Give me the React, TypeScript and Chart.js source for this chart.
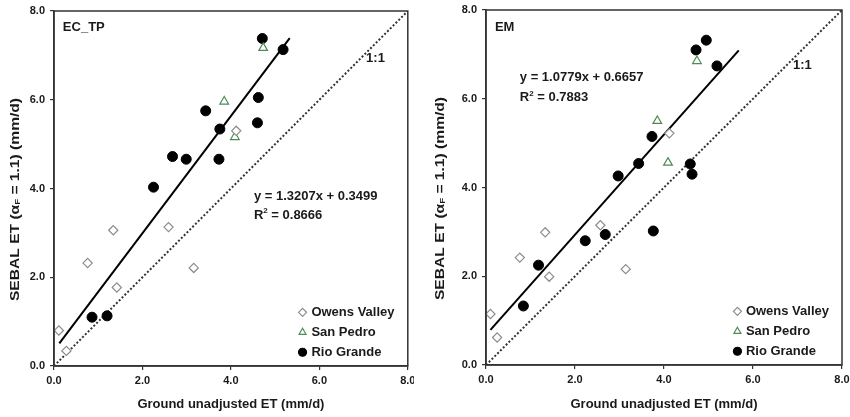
import React, { useEffect, useRef } from "react";
import { Chart, registerables } from "chart.js";
import { drawPoint } from "chart.js/helpers";

Chart.register(...registerables);

// ---------- shared ----------
const TICK_VALUES = [0, 2, 4, 6, 8];
const X_TITLE = "Ground unadjusted ET (mm/d)";
const Y_TITLE_PARTS = ["SEBAL ET (α", "F", " = 1.1) (mm/d)"];
const SERIES_NAMES = ["Owens Valley", "San Pedro", "Rio Grande"];
const ONE_TO_ONE_X = [0, 8];
const ONE_TO_ONE_Y = [0, 8];
const ONE_TO_ONE_LABEL = "1:1";

// ---------- EC_TP panel ----------
const EC_LABEL = "EC_TP";
const EC_EQUATION = "y = 1.3207x + 0.3499";
const EC_R2 = "0.8666";
const ecOwensX = [0.11, 0.28, 0.76, 1.34, 1.42, 2.59, 3.16, 4.12];
const ecOwensY = [0.8, 0.34, 2.32, 3.06, 1.77, 3.13, 2.21, 5.3];
const ecSanPedroX = [3.85, 4.09, 4.73];
const ecSanPedroY = [5.96, 5.16, 7.17];
const ecRioX = [0.86, 1.2, 2.25, 2.68, 2.99, 3.43, 3.75, 3.73, 4.6, 4.62, 4.71, 5.18];
const ecRioY = [1.1, 1.13, 4.03, 4.72, 4.66, 5.75, 5.34, 4.66, 5.48, 6.05, 7.38, 7.13];
const ecTrendX = [0.12, 5.33];
const ecTrendY = [0.51, 7.39];

// ---------- EM panel ----------
const EM_LABEL = "EM";
const EM_EQUATION = "y = 1.0779x + 0.6657";
const EM_R2 = "0.7883";
const emOwensX = [0.1, 0.25, 0.76, 1.33, 1.42, 2.57, 3.14, 4.12];
const emOwensY = [1.15, 0.62, 2.42, 2.99, 1.99, 3.15, 2.16, 5.22];
const emSanPedroX = [3.85, 4.09, 4.74];
const emSanPedroY = [5.5, 4.56, 6.85];
const emRioX = [0.84, 1.18, 2.23, 2.68, 2.97, 3.43, 3.73, 3.76, 4.59, 4.63, 4.72, 4.95, 5.19];
const emRioY = [1.33, 2.25, 2.8, 2.94, 4.26, 4.54, 5.15, 3.02, 4.53, 4.3, 7.1, 7.32, 6.74];
const emTrendX = [0.1, 5.68];
const emTrendY = [0.79, 7.09];

const FONT = '"Liberation Sans", Arial, Helvetica, sans-serif';
const TEXT = "#1a1a1a";
const AXIS = "#333333";

const OWENS_STYLE = { pointStyle: "rectRot", color: "#8c8c8c", fill: "#ffffff", radius: 4.6 };
const SANPEDRO_STYLE = { pointStyle: "triangle", color: "#4f8a55", fill: "rgba(255,255,255,0)", radius: 5 };
const RIO_STYLE = { pointStyle: "circle", color: "#000000", fill: "#000000", radius: 5 };
const STYLES = [OWENS_STYLE, SANPEDRO_STYLE, RIO_STYLE];

type Pt = { x: number; y: number };
const pts = (xs: number[], ys: number[]): Pt[] => xs.map((x, i) => ({ x, y: ys[i] }));

type PanelCfg = {
  left: number;
  width: number;
  yAxisWidth: number;
  xAxisHeight: number;
  padTop: number;
  padRight: number;
  label: string;
  labelPos: Pt;
  equation: string;
  r2: string;
  eqPos: Pt;
  r2Pos: Pt;
  oneLabelPos: Pt;
  legendX: number;
  legendTextX: number;
  legendY: number[];
  owens: Pt[];
  sanPedro: Pt[];
  rio: Pt[];
  trend: Pt[];
};

function drawSegments(
  ctx: CanvasRenderingContext2D,
  segs: { t: string; size: number; dy: number }[],
  x: number,
  y: number,
  align: "left" | "center"
) {
  let total = 0;
  for (const s of segs) {
    ctx.font = `bold ${s.size}px ${FONT}`;
    total += ctx.measureText(s.t).width;
  }
  let cx = align === "center" ? x - total / 2 : x;
  ctx.textAlign = "left";
  ctx.textBaseline = "middle";
  for (const s of segs) {
    ctx.font = `bold ${s.size}px ${FONT}`;
    ctx.fillText(s.t, cx, y + s.dy);
    cx += ctx.measureText(s.t).width;
  }
}

function Panel({ cfg }: { cfg: PanelCfg }) {
  const ref = useRef<HTMLCanvasElement | null>(null);

  useEffect(() => {
    if (!ref.current) return;

    const annotations = {
      id: "annotations",
      afterDraw(chart: any) {
        const ctx: CanvasRenderingContext2D = chart.ctx;
        const xs = chart.scales.x;
        const ys = chart.scales.y;
        const { left, top, right, bottom } = chart.chartArea;
        ctx.save();
        // frame
        ctx.strokeStyle = AXIS;
        ctx.lineWidth = 1.5;
        ctx.strokeRect(left, top, right - left, bottom - top);

        ctx.fillStyle = TEXT;
        // panel label
        ctx.font = `bold 13px ${FONT}`;
        ctx.textAlign = "left";
        ctx.textBaseline = "middle";
        ctx.fillText(cfg.label, xs.getPixelForValue(cfg.labelPos.x), ys.getPixelForValue(cfg.labelPos.y));
        // 1:1
        ctx.textAlign = "center";
        ctx.fillText(ONE_TO_ONE_LABEL, xs.getPixelForValue(cfg.oneLabelPos.x), ys.getPixelForValue(cfg.oneLabelPos.y));
        // equation
        ctx.textAlign = "left";
        ctx.fillText(cfg.equation, xs.getPixelForValue(cfg.eqPos.x), ys.getPixelForValue(cfg.eqPos.y));
        drawSegments(
          ctx,
          [
            { t: "R", size: 13, dy: 0 },
            { t: "2", size: 8, dy: -4 },
            { t: " = " + cfg.r2, size: 13, dy: 0 },
          ],
          xs.getPixelForValue(cfg.r2Pos.x),
          ys.getPixelForValue(cfg.r2Pos.y),
          "left"
        );

        // legend
        SERIES_NAMES.forEach((name, i) => {
          const st = STYLES[i];
          const py = ys.getPixelForValue(cfg.legendY[i]);
          const px = xs.getPixelForValue(cfg.legendX);
          ctx.strokeStyle = st.color;
          ctx.fillStyle = st.fill;
          ctx.lineWidth = 1.2;
          drawPoint(ctx, { pointStyle: st.pointStyle as any, radius: 4, rotation: 0, borderWidth: 1.2 } as any, px, py);
          ctx.fillStyle = TEXT;
          ctx.font = `bold 13px ${FONT}`;
          ctx.textAlign = "left";
          ctx.textBaseline = "middle";
          ctx.fillText(name, xs.getPixelForValue(cfg.legendTextX), py);
        });

        // y title (stretched along its length)
        ctx.fillStyle = TEXT;
        ctx.translate(15, (top + bottom) / 2 + 11);
        ctx.rotate(-Math.PI / 2);
        ctx.scale(1.2, 1);
        drawSegments(
          ctx,
          [
            { t: Y_TITLE_PARTS[0], size: 13, dy: 0 },
            { t: Y_TITLE_PARTS[1], size: 8, dy: 3 },
            { t: Y_TITLE_PARTS[2], size: 13, dy: 0 },
          ],
          0,
          0,
          "center"
        );
        ctx.restore();
      },
    };

    const zeroPad = (s: any) => {
      s.paddingLeft = 0;
      s.paddingRight = 0;
      s.paddingTop = 0;
      s.paddingBottom = 0;
    };

    const axisCommon = {
      type: "linear" as const,
      min: 0,
      max: 8,
      afterBuildTicks: (s: any) => {
        s.ticks = TICK_VALUES.map((v) => ({ value: v }));
      },
      grid: {
        display: true,
        drawOnChartArea: false,
        drawTicks: true,
        tickLength: 4,
        color: AXIS,
        lineWidth: 1.2,
      },
      border: { display: true, color: AXIS, width: 1.5 },
    };

    const chart = new Chart(ref.current, {
      type: "scatter",
      data: {
        datasets: [
          {
            label: SERIES_NAMES[0],
            data: cfg.owens,
            pointStyle: OWENS_STYLE.pointStyle as any,
            pointRadius: OWENS_STYLE.radius,
            borderColor: OWENS_STYLE.color,
            backgroundColor: OWENS_STYLE.fill,
            borderWidth: 1.2,
            order: 1,
          },
          {
            label: SERIES_NAMES[1],
            data: cfg.sanPedro,
            pointStyle: SANPEDRO_STYLE.pointStyle as any,
            pointRadius: SANPEDRO_STYLE.radius,
            borderColor: SANPEDRO_STYLE.color,
            backgroundColor: SANPEDRO_STYLE.fill,
            borderWidth: 1.2,
            order: 1,
          },
          {
            label: SERIES_NAMES[2],
            data: cfg.rio,
            pointStyle: RIO_STYLE.pointStyle as any,
            pointRadius: RIO_STYLE.radius,
            borderColor: RIO_STYLE.color,
            backgroundColor: RIO_STYLE.fill,
            borderWidth: 1,
            order: 1,
          },
          {
            label: "trend",
            data: cfg.trend,
            showLine: true,
            pointRadius: 0,
            borderColor: "#000000",
            borderWidth: 2,
            order: 3,
          },
          {
            label: ONE_TO_ONE_LABEL,
            data: pts(ONE_TO_ONE_X, ONE_TO_ONE_Y),
            showLine: true,
            pointRadius: 0,
            borderColor: "#333333",
            borderWidth: 2,
            borderDash: [2, 2],
            order: 4,
          },
        ],
      },
      options: {
        responsive: false,
        animation: false,
        events: [],
        layout: { padding: { left: 0, right: cfg.padRight, top: cfg.padTop, bottom: 0 } },
        plugins: { legend: { display: false }, tooltip: { enabled: false }, title: { display: false } },
        scales: {
          x: {
            ...axisCommon,
            position: "bottom",
            ticks: {
              padding: 4,
              color: TEXT,
              font: { family: FONT, size: 11, weight: "bold" },
              callback: (v: any) => Number(v).toFixed(1),
              maxRotation: 0,
              autoSkip: false,
            },
            title: {
              display: true,
              text: X_TITLE,
              color: TEXT,
              font: { family: FONT, size: 13, weight: "bold" },
              padding: { top: 0, bottom: 5 },
            },
            afterFit: (s: any) => {
              s.height = cfg.xAxisHeight;
              zeroPad(s);
            },
          },
          y: {
            ...axisCommon,
            position: "left",
            ticks: {
              padding: 5,
              color: TEXT,
              font: { family: FONT, size: 11, weight: "bold" },
              callback: (v: any) => Number(v).toFixed(1),
              autoSkip: false,
            },
            afterFit: (s: any) => {
              s.width = cfg.yAxisWidth;
              zeroPad(s);
            },
          },
        },
      } as any,
      plugins: [annotations],
    });

    return () => chart.destroy();
  }, [cfg]);

  return (
    <canvas
      ref={ref}
      width={cfg.width}
      height={417}
      style={{ position: "absolute", left: cfg.left, top: 0, width: cfg.width, height: 417, display: "block" }}
    />
  );
}

const LEFT_CFG: PanelCfg = {
  left: 0,
  width: 414,
  yAxisWidth: 54,
  xAxisHeight: 51,
  padTop: 11,
  padRight: 5,
  label: EC_LABEL,
  labelPos: { x: 0.2, y: 7.63 },
  equation: EC_EQUATION,
  r2: EC_R2,
  eqPos: { x: 4.52, y: 3.82 },
  r2Pos: { x: 4.52, y: 3.4 },
  oneLabelPos: { x: 7.27, y: 6.93 },
  legendX: 5.62,
  legendTextX: 5.82,
  legendY: [1.21, 0.76, 0.31],
  owens: pts(ecOwensX, ecOwensY),
  sanPedro: pts(ecSanPedroX, ecSanPedroY),
  rio: pts(ecRioX, ecRioY),
  trend: pts(ecTrendX, ecTrendY),
};

const RIGHT_CFG: PanelCfg = {
  left: 425,
  width: 425,
  yAxisWidth: 61,
  xAxisHeight: 52,
  padTop: 10,
  padRight: 8,
  label: EM_LABEL,
  labelPos: { x: 0.2, y: 7.6 },
  equation: EM_EQUATION,
  r2: EM_R2,
  eqPos: { x: 0.76, y: 6.47 },
  r2Pos: { x: 0.76, y: 6.02 },
  oneLabelPos: { x: 7.11, y: 6.75 },
  legendX: 5.65,
  legendTextX: 5.84,
  legendY: [1.21, 0.76, 0.31],
  owens: pts(emOwensX, emOwensY),
  sanPedro: pts(emSanPedroX, emSanPedroY),
  rio: pts(emRioX, emRioY),
  trend: pts(emTrendX, emTrendY),
};

export default function App() {
  useEffect(() => {
    document.body.style.margin = "0";
    document.body.style.background = "#ffffff";
  }, []);
  return (
    <div style={{ position: "relative", width: 850, height: 417, overflow: "hidden", background: "#fff" }}>
      <Panel cfg={LEFT_CFG} />
      <Panel cfg={RIGHT_CFG} />
    </div>
  );
}
